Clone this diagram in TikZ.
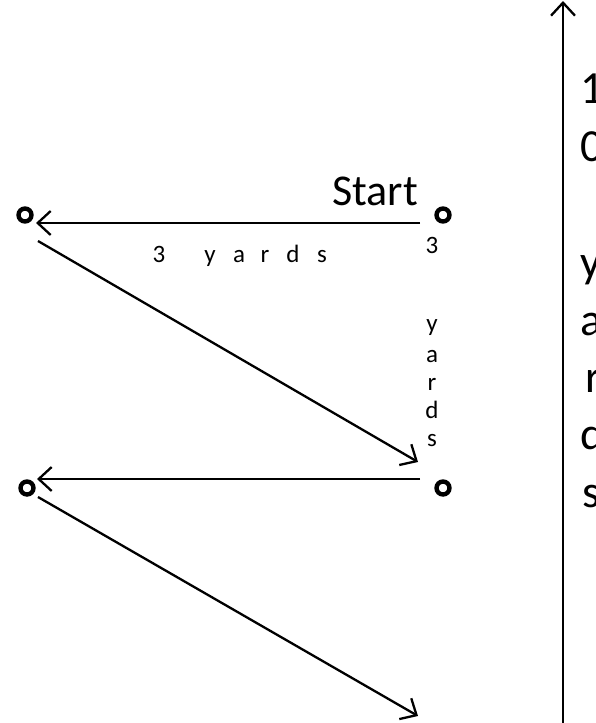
\documentclass[tikz,border=0pt]{standalone}
\usepackage{fontspec}
\setmainfont{Carlito}
\usetikzlibrary{arrows.meta}
\tikzset{
  ring/.style={circle, draw=black, line width=4.4pt, minimum size=13pt, inner sep=0pt},
  conn/.style={line width=2.3pt, -{Straight Barb[length=13pt, width=24pt, line width=2.3pt]}},
  big/.style={font=\fontsize{46}{46}\selectfont, inner sep=0pt, anchor=base west},
  small/.style={font=\fontsize{25}{25}\selectfont, inner sep=0pt, anchor=base},
  start/.style={font=\fontsize{44}{44}\selectfont, inner sep=0pt, anchor=base east}
}
\begin{document}
\begin{tikzpicture}[x=1pt, y=-1pt]
\useasboundingbox (0,0) rectangle (596,723);
% rings
\node[ring] (c1) at (25,215) {};
\node[ring] (c2) at (443,215) {};
\node[ring] (c3) at (27,488) {};
\node[ring] (c4) at (443,488) {};
% connector end points
\coordinate (t1s) at (420,223);
\coordinate (t1e) at (36,223);
\coordinate (d1s) at (38,241);
\coordinate (d1e) at (418,462);
\coordinate (m1s) at (420,479);
\coordinate (m1e) at (37,479);
\coordinate (d2s) at (38,497);
\coordinate (d2e) at (418,716);
\coordinate (axb) at (563,723);
\coordinate (axt) at (563,1);
\draw[conn] (t1s) -- (t1e);
\draw[conn] (d1s) -- (d1e);
\draw[conn] (m1s) -- (m1e);
\draw[conn] (d2s) -- (d2e);
\draw[conn] (axb) -- (axt);
% labels
\node[start] (lstart) at (418,205) {Start};
\node[small] (h3) at (159,262) {3};
\node[small] (hy) at (210,262) {y};
\node[small] (ha) at (239,262) {a};
\node[small] (hr) at (265,262) {r};
\node[small] (hd) at (293,262) {d};
\node[small] (hs) at (322,262) {s};
\node[small] (v3) at (432,253) {3};
\node[small] (vy) at (432,331) {y};
\node[small] (va) at (432,362) {a};
\node[small] (vr) at (432,390) {r};
\node[small] (vd) at (432,418) {d};
\node[small] (vs) at (432,446) {s};
\node[big] (r1) at (580,103) {1};
\node[big] (r0) at (580,161) {0};
\node[big] (ry) at (580,277) {y};
\node[big] (ra) at (580,335) {a};
\node[big] (rr) at (585,392) {r};
\node[big] (rd) at (580,449) {d};
\node[big] (rs) at (582,507) {s};
\end{tikzpicture}
\end{document}
